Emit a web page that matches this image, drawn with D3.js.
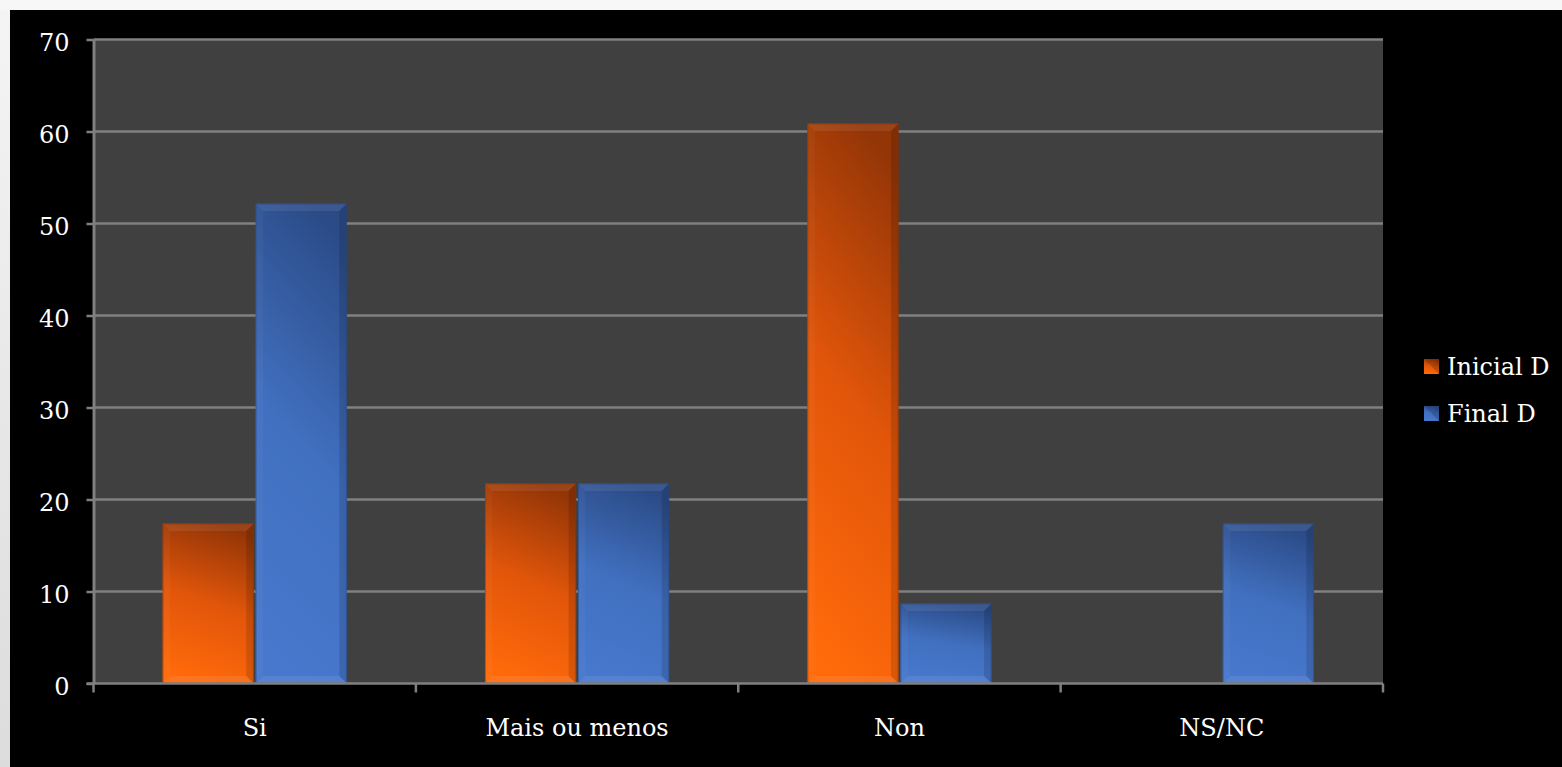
<!DOCTYPE html>
<html>
<head>
<meta charset="utf-8">
<script src="https://cdn.jsdelivr.net/npm/d3@7"></script>
<style>
  html, body { margin: 0; padding: 0; background: #f7f7f7; overflow: hidden; }
  svg { display: block; }
</style>
</head>
<body>
<svg id="chart" width="1562" height="767"></svg>
<script>
// ---- data ----
const categories = ["Si", "Mais ou menos", "Non", "NS/NC"];
const seriesNames = ["Inicial D", "Final D"];
const inicialValues = [17.39, 21.74, 60.87, 0];
const finalValues = [52.17, 21.74, 8.70, 17.39];
const yTicks = [0, 10, 20, 30, 40, 50, 60, 70];

// ---- layout ----
const W = 1562, H = 767;
const plot = { left: 93.5, right: 1383, top: 39.5, bottom: 683.5 };
const FONT = "'DejaVu Serif', 'Liberation Serif', serif";

const svg = d3.select("#chart");
const defs = svg.append("defs");

// page frame
const lg = defs.append("linearGradient").attr("id", "leftStrip").attr("x1", 0).attr("y1", 0).attr("x2", 0).attr("y2", 1);
lg.append("stop").attr("offset", 0).attr("stop-color", "#f4f4f4");
lg.append("stop").attr("offset", 1).attr("stop-color", "#dcdcdc");
svg.append("rect").attr("x", 0).attr("y", 0).attr("width", W).attr("height", H).attr("fill", "#f7f7f7");
svg.append("rect").attr("x", 0).attr("y", 10).attr("width", 10).attr("height", H - 10).attr("fill", "url(#leftStrip)");
svg.append("rect").attr("x", 10).attr("y", 10).attr("width", W - 10).attr("height", H - 10).attr("fill", "#000");

// gradients for bars
function barGradient(id, bottom, mid, top) {
  const g = defs.append("linearGradient").attr("id", id)
    .attr("x1", 0.4).attr("y1", 1).attr("x2", 0.6).attr("y2", 0);
  g.append("stop").attr("offset", 0).attr("stop-color", bottom);
  g.append("stop").attr("offset", 0.5).attr("stop-color", mid);
  g.append("stop").attr("offset", 1).attr("stop-color", top);
}
barGradient("gOrange", "#ff6a0a", "#e2560a", "#933507");
barGradient("gBlue", "#4878cd", "#4170c0", "#2b4b87");
const fills = ["url(#gOrange)", "url(#gBlue)"];
const edgeColors = ["#8a3205", "#27467e"];

// scales
const x0 = d3.scaleBand().domain(categories).range([plot.left, plot.right]);
const x1 = d3.scaleBand().domain(seriesNames)
  .range([0, x0.bandwidth() * 2 / 3.5])
  .paddingInner(0.02);
const y = d3.scaleLinear().domain([0, 70]).range([plot.bottom, plot.top]);

// plot area
svg.append("rect")
  .attr("x", plot.left).attr("y", plot.top)
  .attr("width", plot.right - plot.left).attr("height", plot.bottom - plot.top)
  .attr("fill", "#404040");

// gridlines
svg.append("g").selectAll("line").data(yTicks.filter(d => d > 0)).join("line")
  .attr("x1", plot.left).attr("x2", plot.right)
  .attr("y1", d => y(d)).attr("y2", d => y(d))
  .attr("stroke", "#808080").attr("stroke-width", 2.5);

// y axis
const yAxis = d3.axisLeft(y).tickValues(yTicks).tickSize(7).tickPadding(17).tickSizeOuter(0);
const gy = svg.append("g").attr("transform", `translate(${plot.left},0)`).call(yAxis);
gy.select(".domain").attr("stroke", "#808080").attr("stroke-width", 3);
gy.selectAll(".tick line").attr("stroke", "#808080").attr("stroke-width", 2.5);
gy.selectAll(".tick text")
  .attr("fill", "#fff").attr("font-family", FONT).attr("font-size", 24)
  .attr("dy", "0.45em");

// bars
const groups = svg.append("g").selectAll("g").data(categories).join("g")
  .attr("transform", d => `translate(${x0(d) + x0.bandwidth() / 2 - x1.range()[1] / 2},0)`);

const B = 7.5;
groups.each(function(cat, ci) {
  const g = d3.select(this);
  const vals = [inicialValues[ci], finalValues[ci]];
  vals.forEach((v, si) => {
    if (v <= 0) return;
    const bx = x1(seriesNames[si]), bw = x1.bandwidth();
    const by = y(v), bh = y(0) - y(v);
    const bar = g.append("g");
    bar.append("rect").attr("x", bx).attr("y", by).attr("width", bw).attr("height", bh)
      .attr("fill", fills[si]);
    const b = Math.min(B, bh / 2);
    const pts = (arr) => arr.map(p => p.join(",")).join(" ");
    // top bevel
    bar.append("polygon").attr("points", pts([[bx, by], [bx + bw, by], [bx + bw - b, by + b], [bx + b, by + b]]))
      .attr("fill", "#fff").attr("fill-opacity", 0.08);
    // left bevel
    bar.append("polygon").attr("points", pts([[bx, by], [bx + b, by + b], [bx + b, by + bh - b], [bx, by + bh]]))
      .attr("fill", "#fff").attr("fill-opacity", 0.03);
    // right bevel
    bar.append("polygon").attr("points", pts([[bx + bw, by], [bx + bw, by + bh], [bx + bw - b, by + bh - b], [bx + bw - b, by + b]]))
      .attr("fill", "#000").attr("fill-opacity", 0.13);
    // bottom bevel
    bar.append("polygon").attr("points", pts([[bx, by + bh], [bx + b, by + bh - b], [bx + bw - b, by + bh - b], [bx + bw, by + bh]]))
      .attr("fill", "#fff").attr("fill-opacity", 0.08);
    bar.append("rect").attr("x", bx + 0.5).attr("y", by + 0.5).attr("width", bw - 1).attr("height", bh - 1)
      .attr("fill", "none").attr("stroke", edgeColors[si]).attr("stroke-opacity", 0.5).attr("stroke-width", 1);
  });
});

// x axis
const boundaries = d3.range(categories.length + 1).map(i => plot.left + i * x0.step());
const gx = svg.append("g");
gx.append("line").attr("x1", plot.left - 7).attr("x2", plot.right)
  .attr("y1", plot.bottom).attr("y2", plot.bottom)
  .attr("stroke", "#808080").attr("stroke-width", 2.5);
gx.selectAll("line.tk").data(boundaries).join("line").attr("class", "tk")
  .attr("x1", d => d).attr("x2", d => d)
  .attr("y1", plot.bottom).attr("y2", plot.bottom + 9)
  .attr("stroke", "#808080").attr("stroke-width", 2.5);
gx.selectAll("text").data(categories).join("text")
  .attr("x", d => x0(d) + x0.bandwidth() / 2)
  .attr("y", 736)
  .attr("text-anchor", "middle")
  .attr("fill", "#fff").attr("font-family", FONT).attr("font-size", 24)
  .text(d => d);

// legend
const legend = svg.append("g");
const legendY = [359, 406];
seriesNames.forEach((name, i) => {
  const ly = legendY[i];
  legend.append("rect").attr("x", 1424).attr("y", ly).attr("width", 15).attr("height", 15)
    .attr("fill", fills[i]);
  const pts = (arr) => arr.map(p => p.join(",")).join(" ");
  legend.append("polygon").attr("points", pts([[1424, ly], [1439, ly], [1431.5, ly + 7.5]]))
    .attr("fill", "#000").attr("fill-opacity", 0.12);
  legend.append("polygon").attr("points", pts([[1439, ly], [1439, ly + 15], [1431.5, ly + 7.5]]))
    .attr("fill", "#000").attr("fill-opacity", 0.18);
  legend.append("text").attr("x", 1447).attr("y", ly + 16)
    .attr("fill", "#fff").attr("font-family", FONT).attr("font-size", 24)
    .text(name);
});
</script>
</body>
</html>
